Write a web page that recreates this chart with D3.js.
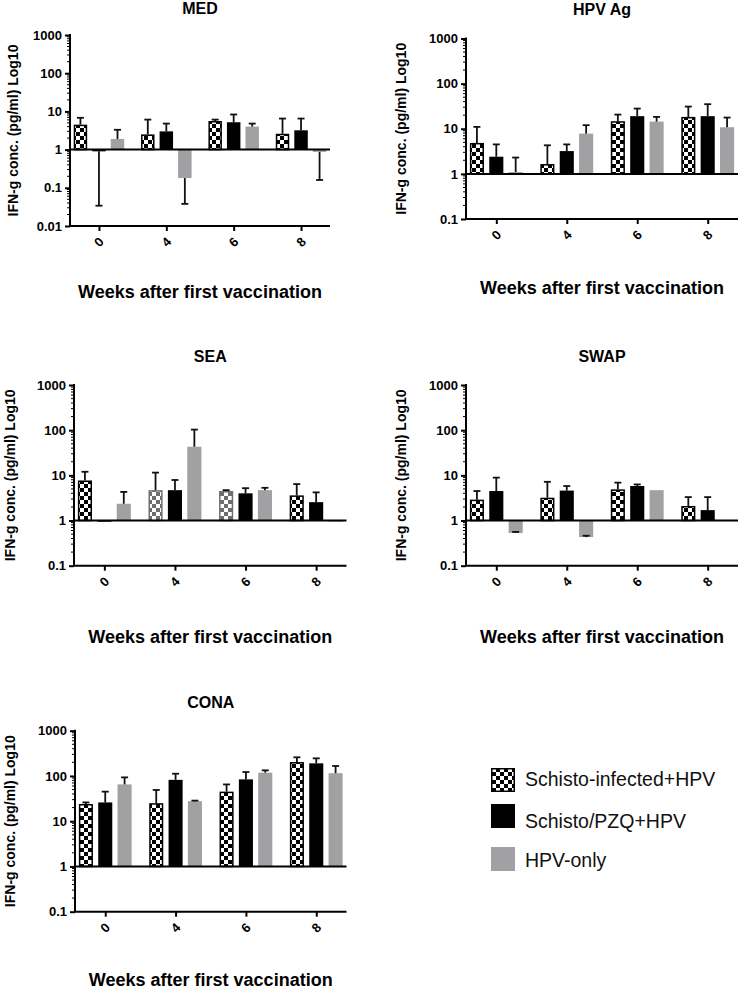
<!DOCTYPE html>
<html>
<head>
<meta charset="utf-8">
<script src="https://cdn.jsdelivr.net/npm/d3@7"></script>
<style>
  body { margin: 0; background: #fff; }
  svg { display: block; font-family: "Liberation Sans", Arial, Helvetica, sans-serif; }
</style>
</head>
<body>
<div id="chart"></div>
<script>
// ---------------- DATA ----------------
const weeks = ["0", "4", "6", "8"];
const seriesNames = ["Schisto-infected+HPV", "Schisto/PZQ+HPV", "HPV-only"];
const panelTitles = ["MED", "HPV Ag", "SEA", "SWAP", "CONA"];
const xAxisTitle = "Weeks after first vaccination";
const yAxisTitle = "IFN-g conc. (pg/ml) Log10";
const yTicksMED = [0.01, 0.1, 1, 10, 100, 1000];
const yTicksOther = [0.1, 1, 10, 100, 1000];

// means per series (rows) by week (columns); error = end of one-sided error bar
const medMean = [[4.5, 2.5, 5.6, 2.6], [0.9, 3.0, 5.2, 3.2], [1.9, 0.18, 4.0, 0.87]];
const medErr  = [[6.8, 6.1, 6.1, 6.5], [0.034, 4.8, 8.3, 6.5], [3.3, 0.038, 4.8, 0.16]];

const hpvMean = [[4.85, 1.65, 14.7, 18.3], [2.4, 3.2, 19, 19], [1.1, 7.8, 14.4, 10.8]];
const hpvErr  = [[11, 4.3, 20.6, 31], [4.5, 4.5, 28, 35], [2.3, 12, 18.3, 17.7]];

const seaMean = [[7.7, 4.7, 4.5, 3.6], [0.95, 4.7, 4.0, 2.55], [2.35, 43, 4.7, 0.96]];
const seaErr  = [[12, 11.5, 4.7, 6.4], [0.95, 7.9, 5.2, 4.2], [4.3, 103, 5.3, 0.96]];

const swapMean = [[2.9, 3.2, 4.9, 2.1], [4.5, 4.6, 5.8, 1.7], [0.53, 0.43, 4.7, null]];
const swapErr  = [[4.5, 7.2, 6.9, 3.3], [8.9, 5.8, 6.3, 3.3], [0.56, 0.46, 4.7, null]];

const conaMean = [[24, 25, 45, 203], [26, 82, 84, 190], [65, 27.7, 118, 115]];
const conaErr  = [[26, 49, 65, 258], [45, 112, 122, 245], [93, 28.5, 133, 166]];

// ---------------- LAYOUT ----------------
const W = 740, H = 989;
const svg = d3.select("#chart").append("svg").attr("width", W).attr("height", H);
const defs = svg.append("defs");

function checker(id, color) {
  const p = defs.append("pattern").attr("id", id).attr("patternUnits", "userSpaceOnUse")
    .attr("width", 8).attr("height", 8);
  p.append("rect").attr("width", 8).attr("height", 8).attr("fill", "#fff");
  p.append("rect").attr("width", 4).attr("height", 4).attr("fill", color);
  p.append("rect").attr("x", 4).attr("y", 4).attr("width", 4).attr("height", 4).attr("fill", color);
}
checker("chk", "#000");
checker("chkGray", "#6e6e6e");

const grayFill = "#a1a1a4";

const panels = [
  { title: panelTitles[0], mean: medMean, err: medErr, ticks: yTicksMED,
    x0: 70, x1: 330, yTop: 35, yBot: 226, titleY: 14, xLabY: 298, yLabX: 18 },
  { title: panelTitles[1], mean: hpvMean, err: hpvErr, ticks: yTicksOther,
    x0: 466, x1: 738, yTop: 38.5, yBot: 219, titleY: 15, xLabY: 294, yLabX: 406 },
  { title: panelTitles[2], mean: seaMean, err: seaErr, ticks: yTicksOther,
    x0: 74, x1: 346.5, yTop: 385, yBot: 565.7, titleY: 362, xLabY: 643, yLabX: 15 },
  { title: panelTitles[3], mean: swapMean, err: swapErr, ticks: yTicksOther,
    x0: 466, x1: 738, yTop: 385, yBot: 565.7, titleY: 362, xLabY: 643, yLabX: 406 },
  { title: panelTitles[4], mean: conaMean, err: conaErr, ticks: yTicksOther,
    x0: 75, x1: 346.5, yTop: 730.7, yBot: 911.7, titleY: 708, xLabY: 986, yLabX: 15 }
];

panels.forEach((P, pi) => {
  const g = svg.append("g");
  const gBars = g.append("g"), gErr = g.append("g");
  const lo = P.ticks[0], hi = P.ticks[P.ticks.length - 1];
  const y = d3.scaleLog().domain([lo, hi]).range([P.yBot, P.yTop]);
  const x = d3.scalePoint().domain(weeks).range([P.x0, P.x1]).padding(0.43);
  const step = x.step();
  const pitch = step * 0.275, bw = step * 0.2;

  seriesNames.forEach((s, si) => {
    weeks.forEach((wk, wi) => {
      const v = P.mean[si][wi];
      if (v == null) return;
      const cx = x(wk) + (si - 1) * pitch;
      const y1 = y(1), yv = y(v);
      const top = Math.min(y1, yv), h = Math.max(Math.abs(y1 - yv), 1.2);
      const r = gBars.append("rect").attr("x", cx - bw / 2).attr("width", bw)
        .attr("y", top).attr("height", h);
      if (si === 0) {
        const light = P.title === "SEA" && (wi === 1 || wi === 2);
        r.attr("fill", light ? "url(#chkGray)" : "url(#chk)")
          .attr("stroke", light ? "#6e6e6e" : "#000").attr("stroke-width", 1.5);
        r.attr("x", cx - bw / 2 + 0.75).attr("width", bw - 1.5)
          .attr("y", top + 0.75).attr("height", Math.max(h - 0.75, 0.5));
      } else if (si === 1) {
        r.attr("fill", "#000");
      } else {
        r.attr("fill", grayFill);
      }
      // error bar
      const e = P.err[si][wi];
      if (e != null && e !== v) {
        gErr.append("line").attr("x1", cx).attr("x2", cx).attr("y1", yv).attr("y2", y(e))
          .attr("stroke", "#111").attr("stroke-width", 1.8);
        gErr.append("line").attr("x1", cx - 3.5).attr("x2", cx + 3.5).attr("y1", y(e)).attr("y2", y(e))
          .attr("stroke", "#111").attr("stroke-width", 1.8);
      }
    });
  });

  // baseline at 1
  g.append("line").attr("x1", P.x0).attr("x2", P.x1).attr("y1", y(1)).attr("y2", y(1))
    .attr("stroke", "#000").attr("stroke-width", 2);

  // y axis minor ticks
  const minors = [];
  for (let d = lo; d < hi; d *= 10) for (let k = 2; k <= 9; k++) minors.push(d * k);
  g.selectAll(null).data(minors).enter().append("line")
    .attr("x1", P.x0 - 3).attr("x2", P.x0).attr("y1", d => y(d)).attr("y2", d => y(d))
    .attr("stroke", "#000").attr("stroke-width", 1);

  // y axis
  const ya = g.append("g").attr("transform", `translate(${P.x0},0)`)
    .call(d3.axisLeft(y).tickValues(P.ticks).tickFormat(d3.format("~g")).tickSize(5).tickPadding(3));
  ya.select(".domain").attr("stroke-width", 2).attr("d", `M0,${P.yTop - 1}V${P.yBot}`);
  ya.selectAll(".tick line").attr("stroke-width", 2);
  ya.selectAll(".tick text").attr("font-size", 13).attr("font-weight", "bold")
    .attr("fill", "#000").attr("font-family", "'Liberation Sans', Arial, sans-serif");

  // x axis
  const xa = g.append("g").attr("transform", `translate(0,${P.yBot})`)
    .call(d3.axisBottom(x).tickSize(5).tickFormat(""));
  xa.select(".domain").attr("stroke-width", 2).attr("d", `M${P.x0 - 1},0H${P.x1}`);
  xa.selectAll(".tick line").attr("stroke-width", 2);
  g.selectAll(null).data(weeks).enter().append("text")
    .attr("transform", d => `translate(${x(d)},${P.yBot + 16}) rotate(-45)`)
    .attr("text-anchor", "middle").attr("dominant-baseline", "central")
    .attr("font-size", 13).attr("font-weight", "bold").text(d => d);

  // titles
  const cxPlot = (P.x0 + P.x1) / 2;
  g.append("text").attr("x", cxPlot).attr("y", P.titleY).attr("text-anchor", "middle")
    .attr("font-size", 16).attr("font-weight", "bold").text(P.title);
  g.append("text").attr("x", cxPlot).attr("y", P.xLabY).attr("text-anchor", "middle")
    .attr("font-size", 18).attr("font-weight", "bold").text(xAxisTitle);
  g.append("text").attr("transform", `translate(${P.yLabX},${(P.yTop + P.yBot) / 2}) rotate(-90)`)
    .attr("text-anchor", "middle").attr("font-size", 14).attr("font-weight", "bold").text(yAxisTitle);
});

// legend
const leg = svg.append("g");
const legBoxY = [768, 804, 847];
const legTextY = [786, 828, 867];
seriesNames.forEach((s, i) => {
  const r = leg.append("rect").attr("x", 491).attr("y", legBoxY[i]).attr("width", 24).attr("height", 24);
  if (i === 0) r.attr("fill", "url(#chk)").attr("stroke", "#000").attr("stroke-width", 1.5)
    .attr("x", 491.75).attr("y", legBoxY[i] + 0.75).attr("width", 22.5).attr("height", 22.5);
  else if (i === 1) r.attr("fill", "#000");
  else r.attr("fill", grayFill);
  leg.append("text").attr("x", 525).attr("y", legTextY[i]).attr("font-size", 19.5)
    .attr("fill", "#111").text(s);
});
</script>
</body>
</html>
